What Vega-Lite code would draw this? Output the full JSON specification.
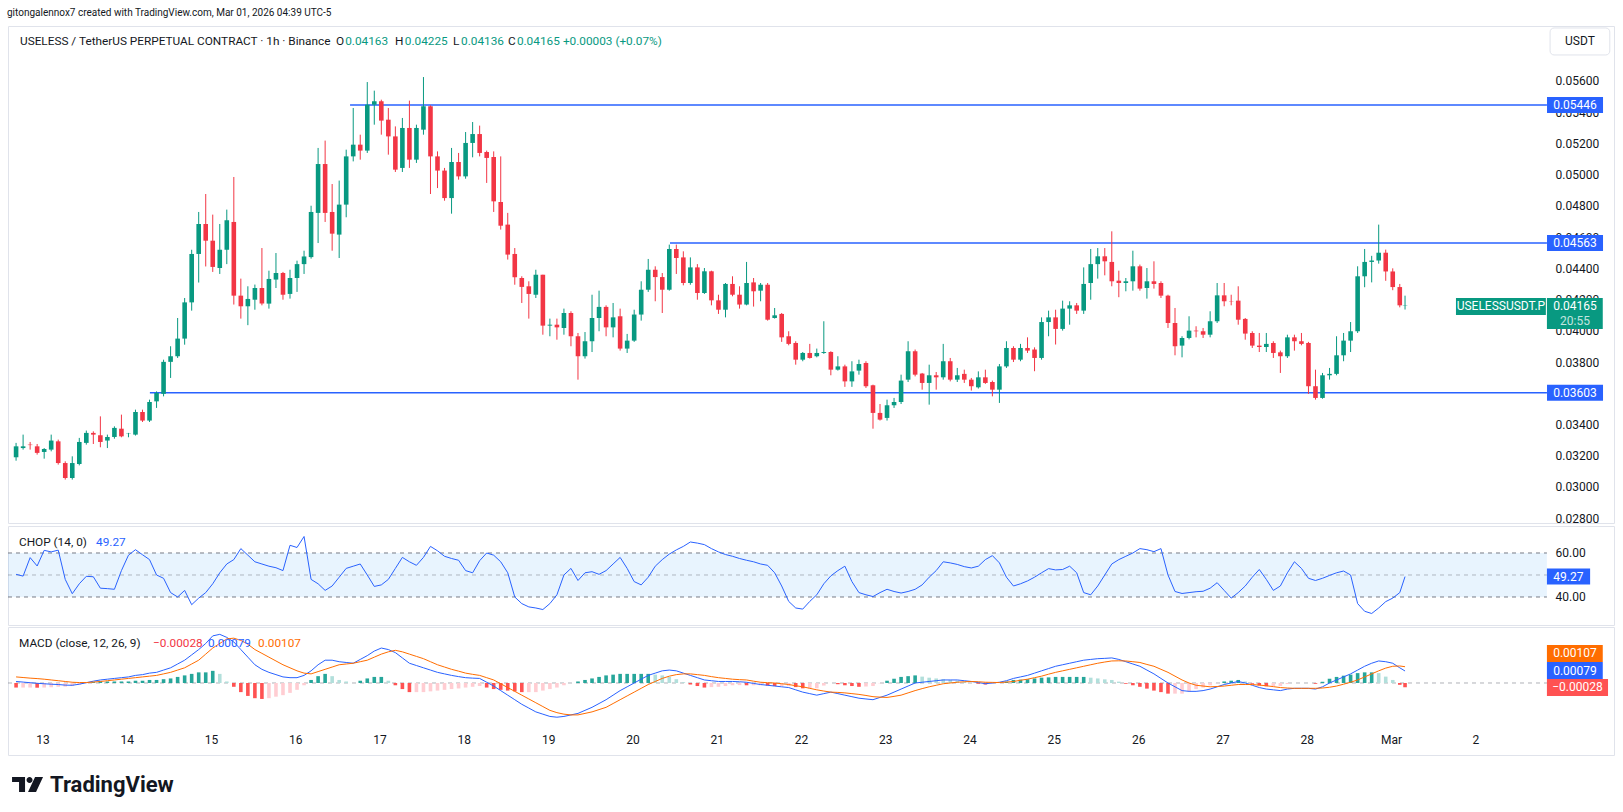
{
"$schema":"https://vega.github.io/schema/vega-lite/v6.json",
"background":"#ffffff",
"padding":{"left":7,"top":7,"right":10,"bottom":0},
"title":{"text":"gitongalennox7 created with TradingView.com, Mar 01, 2026 04:39 UTC-5","anchor":"start","frame":"bounds","fontSize":10,"fontWeight":"normal","color":"#131722","offset":8},
"config":{"font":"Roboto","view":{"stroke":"#e0e3eb","strokeWidth":1}},
"spacing":0,
"datasets":{
"lv":[{"lvl":0.05446,"from":"2026-02-16T15:36"},{"lvl":0.04563,"from":"2026-02-20T10:42"},{"lvl":0.03603,"from":"2026-02-14T06:36"}],
"k":[
{"t":"2026-02-12T16:30","o":0.0319,"h":0.03282,"l":0.03168,"c":0.0326,"ch":50.3,"m":0.0001,"s":0.0004,"d":-0.0003},
{"t":"2026-02-12T18:30","o":0.03249,"h":0.03335,"l":0.03239,"c":0.0326,"ch":49.5,"m":0.00006,"s":0.00036,"d":-0.0003},
{"t":"2026-02-12T20:30","o":0.03271,"h":0.03288,"l":0.03239,"c":0.03268,"ch":57.9,"m":0.00002,"s":0.00032,"d":-0.0003},
{"t":"2026-02-12T22:30","o":0.0326,"h":0.03275,"l":0.03207,"c":0.03218,"ch":54.1,"m":-0.00002,"s":0.00029,"d":-0.00031},
{"t":"2026-02-13T00:30","o":0.03224,"h":0.03249,"l":0.03181,"c":0.03243,"ch":61.2,"m":-0.00005,"s":0.00025,"d":-0.0003},
{"t":"2026-02-13T02:30","o":0.03239,"h":0.03335,"l":0.03228,"c":0.03297,"ch":60.5,"m":-0.00008,"s":0.0002,"d":-0.00028},
{"t":"2026-02-13T04:30","o":0.03292,"h":0.03303,"l":0.03143,"c":0.03153,"ch":61.3,"m":-0.0001,"s":0.00015,"d":-0.00025},
{"t":"2026-02-13T06:30","o":0.03153,"h":0.03164,"l":0.03047,"c":0.03057,"ch":48,"m":-0.00014,"s":0.0001,"d":-0.00024},
{"t":"2026-02-13T08:30","o":0.03057,"h":0.03196,"l":0.03047,"c":0.03153,"ch":41.5,"m":-0.00015,"s":0.00005,"d":-0.0002},
{"t":"2026-02-13T10:30","o":0.03147,"h":0.03314,"l":0.03138,"c":0.03288,"ch":46,"m":-0.00008,"s":0.00003,"d":-0.00011},
{"t":"2026-02-13T12:30","o":0.03282,"h":0.03361,"l":0.03271,"c":0.03346,"ch":49.4,"m":0.00002,"s":0.00003,"d":-0.00001},
{"t":"2026-02-13T14:30","o":0.03346,"h":0.03356,"l":0.03275,"c":0.03335,"ch":49.2,"m":0.00012,"s":0.00006,"d":0.00006},
{"t":"2026-02-13T16:30","o":0.03331,"h":0.03452,"l":0.03254,"c":0.03288,"ch":44,"m":0.0002,"s":0.0001,"d":0.0001},
{"t":"2026-02-13T18:30","o":0.03297,"h":0.03335,"l":0.03249,"c":0.0332,"ch":43.8,"m":0.00025,"s":0.00015,"d":0.0001},
{"t":"2026-02-13T20:30","o":0.0332,"h":0.03388,"l":0.03309,"c":0.03378,"ch":43.5,"m":0.0003,"s":0.0002,"d":0.0001},
{"t":"2026-02-13T22:30","o":0.03373,"h":0.03463,"l":0.03318,"c":0.03324,"ch":52,"m":0.00035,"s":0.00025,"d":0.0001},
{"t":"2026-02-14T00:30","o":0.03339,"h":0.03346,"l":0.03318,"c":0.03341,"ch":59,"m":0.0004,"s":0.0003,"d":0.0001},
{"t":"2026-02-14T02:30","o":0.03335,"h":0.03495,"l":0.03329,"c":0.0348,"ch":61.5,"m":0.0005,"s":0.00035,"d":0.00015},
{"t":"2026-02-14T04:30","o":0.0348,"h":0.03495,"l":0.03416,"c":0.03425,"ch":59.2,"m":0.00055,"s":0.0004,"d":0.00015},
{"t":"2026-02-14T06:30","o":0.03425,"h":0.03559,"l":0.03416,"c":0.03544,"ch":57,"m":0.00065,"s":0.00045,"d":0.0002},
{"t":"2026-02-14T08:30","o":0.03548,"h":0.03612,"l":0.03506,"c":0.03602,"ch":50,"m":0.0007,"s":0.0005,"d":0.0002},
{"t":"2026-02-14T10:30","o":0.03596,"h":0.03815,"l":0.0358,"c":0.03801,"ch":48.5,"m":0.00085,"s":0.0006,"d":0.00025},
{"t":"2026-02-14T12:30","o":0.03801,"h":0.03901,"l":0.03698,"c":0.03837,"ch":42,"m":0.001,"s":0.0007,"d":0.0003},
{"t":"2026-02-14T14:30","o":0.03837,"h":0.04082,"l":0.03826,"c":0.0395,"ch":40,"m":0.00125,"s":0.00085,"d":0.0004},
{"t":"2026-02-14T16:30","o":0.0395,"h":0.0421,"l":0.03911,"c":0.04182,"ch":43,"m":0.0015,"s":0.001,"d":0.0005},
{"t":"2026-02-14T18:30","o":0.04182,"h":0.04519,"l":0.04129,"c":0.04492,"ch":36.5,"m":0.00185,"s":0.00125,"d":0.0006},
{"t":"2026-02-14T20:30","o":0.04492,"h":0.04761,"l":0.04309,"c":0.04684,"ch":39.5,"m":0.0022,"s":0.0015,"d":0.0007},
{"t":"2026-02-14T22:30","o":0.04684,"h":0.04876,"l":0.04412,"c":0.04577,"ch":42,"m":0.0026,"s":0.0019,"d":0.0007},
{"t":"2026-02-15T00:30","o":0.04577,"h":0.04744,"l":0.04377,"c":0.04409,"ch":46,"m":0.0031,"s":0.0023,"d":0.0008},
{"t":"2026-02-15T02:30","o":0.04402,"h":0.04684,"l":0.04364,"c":0.04519,"ch":51,"m":0.0032,"s":0.0026,"d":0.0006},
{"t":"2026-02-15T04:30","o":0.04519,"h":0.04776,"l":0.04427,"c":0.04708,"ch":55,"m":0.003,"s":0.0029,"d":0.0001},
{"t":"2026-02-15T06:30","o":0.04697,"h":0.04985,"l":0.04168,"c":0.04225,"ch":57,"m":0.0027,"s":0.00295,"d":-0.00025},
{"t":"2026-02-15T08:30","o":0.04225,"h":0.04334,"l":0.04078,"c":0.04157,"ch":62,"m":0.0022,"s":0.0028,"d":-0.0006},
{"t":"2026-02-15T10:30","o":0.04157,"h":0.04285,"l":0.04036,"c":0.04204,"ch":59,"m":0.0017,"s":0.00255,"d":-0.00085},
{"t":"2026-02-15T12:30","o":0.04199,"h":0.04296,"l":0.04135,"c":0.04274,"ch":56,"m":0.0012,"s":0.0022,"d":-0.001},
{"t":"2026-02-15T14:30","o":0.04274,"h":0.0453,"l":0.04163,"c":0.04174,"ch":55,"m":0.0009,"s":0.00195,"d":-0.00105},
{"t":"2026-02-15T16:30","o":0.04174,"h":0.04385,"l":0.04142,"c":0.04332,"ch":54,"m":0.0007,"s":0.0017,"d":-0.001},
{"t":"2026-02-15T18:30","o":0.04328,"h":0.04498,"l":0.04274,"c":0.0437,"ch":53.3,"m":0.00055,"s":0.00145,"d":-0.0009},
{"t":"2026-02-15T20:30","o":0.0437,"h":0.04377,"l":0.04199,"c":0.04231,"ch":52,"m":0.0004,"s":0.0012,"d":-0.0008},
{"t":"2026-02-15T22:30","o":0.04236,"h":0.04391,"l":0.04206,"c":0.04338,"ch":63.5,"m":0.00035,"s":0.001,"d":-0.00065},
{"t":"2026-02-16T00:30","o":0.04338,"h":0.04449,"l":0.04249,"c":0.04427,"ch":62.5,"m":0.00035,"s":0.0008,"d":-0.00045},
{"t":"2026-02-16T02:30","o":0.04427,"h":0.04513,"l":0.04364,"c":0.04476,"ch":67.5,"m":0.0005,"s":0.00065,"d":-0.00015},
{"t":"2026-02-16T04:30","o":0.04472,"h":0.04801,"l":0.04462,"c":0.04761,"ch":48,"m":0.0008,"s":0.0006,"d":0.0002},
{"t":"2026-02-16T06:30","o":0.04755,"h":0.05171,"l":0.04562,"c":0.05068,"ch":46,"m":0.0012,"s":0.00075,"d":0.00045},
{"t":"2026-02-16T08:30","o":0.05068,"h":0.05218,"l":0.04697,"c":0.04755,"ch":43,"m":0.0015,"s":0.0009,"d":0.0006},
{"t":"2026-02-16T10:30","o":0.04761,"h":0.0494,"l":0.04513,"c":0.04622,"ch":45,"m":0.0015,"s":0.00105,"d":0.00045},
{"t":"2026-02-16T12:30","o":0.04616,"h":0.04962,"l":0.04466,"c":0.04808,"ch":49,"m":0.0014,"s":0.0012,"d":0.0002},
{"t":"2026-02-16T14:30","o":0.04808,"h":0.0516,"l":0.04727,"c":0.05117,"ch":53,"m":0.00135,"s":0.00125,"d":0.0001},
{"t":"2026-02-16T16:30","o":0.05117,"h":0.05427,"l":0.05085,"c":0.05192,"ch":54,"m":0.0013,"s":0.0013,"d":0},
{"t":"2026-02-16T18:30","o":0.05192,"h":0.05256,"l":0.05096,"c":0.05154,"ch":55,"m":0.00155,"s":0.0014,"d":0.00015},
{"t":"2026-02-16T20:30","o":0.05154,"h":0.05593,"l":0.05139,"c":0.05448,"ch":50,"m":0.0018,"s":0.0015,"d":0.0003},
{"t":"2026-02-16T22:30","o":0.05448,"h":0.05538,"l":0.0532,"c":0.0547,"ch":44.8,"m":0.0021,"s":0.0017,"d":0.0004},
{"t":"2026-02-17T00:30","o":0.0547,"h":0.0548,"l":0.05256,"c":0.05346,"ch":45.5,"m":0.0023,"s":0.0019,"d":0.0004},
{"t":"2026-02-17T02:30","o":0.05352,"h":0.05427,"l":0.05128,"c":0.05245,"ch":48,"m":0.0022,"s":0.00205,"d":0.00015},
{"t":"2026-02-17T04:30","o":0.05245,"h":0.05309,"l":0.05017,"c":0.05032,"ch":53,"m":0.002,"s":0.00215,"d":-0.00015},
{"t":"2026-02-17T06:30","o":0.05043,"h":0.05363,"l":0.05017,"c":0.05299,"ch":58,"m":0.00165,"s":0.00205,"d":-0.0004},
{"t":"2026-02-17T08:30","o":0.05299,"h":0.05474,"l":0.05043,"c":0.05096,"ch":56,"m":0.0013,"s":0.0019,"d":-0.0006},
{"t":"2026-02-17T10:30","o":0.05096,"h":0.0532,"l":0.05075,"c":0.05299,"ch":54.4,"m":0.00115,"s":0.00175,"d":-0.0006},
{"t":"2026-02-17T12:30","o":0.05288,"h":0.05625,"l":0.05256,"c":0.05438,"ch":58,"m":0.001,"s":0.0016,"d":-0.0006},
{"t":"2026-02-17T14:30","o":0.05438,"h":0.05444,"l":0.04876,"c":0.05117,"ch":63,"m":0.00085,"s":0.0014,"d":-0.00055},
{"t":"2026-02-17T16:30","o":0.05117,"h":0.05149,"l":0.04914,"c":0.05026,"ch":61,"m":0.0007,"s":0.0012,"d":-0.0005},
{"t":"2026-02-17T18:30","o":0.05026,"h":0.05043,"l":0.04833,"c":0.0485,"ch":58.5,"m":0.0006,"s":0.00105,"d":-0.00045},
{"t":"2026-02-17T20:30","o":0.0485,"h":0.05171,"l":0.0475,"c":0.05081,"ch":57.5,"m":0.0005,"s":0.0009,"d":-0.0004},
{"t":"2026-02-17T22:30","o":0.05081,"h":0.05139,"l":0.04968,"c":0.04989,"ch":56.7,"m":0.00042,"s":0.00078,"d":-0.00036},
{"t":"2026-02-18T00:30","o":0.04989,"h":0.05273,"l":0.04974,"c":0.05203,"ch":52,"m":0.00035,"s":0.00065,"d":-0.0003},
{"t":"2026-02-18T02:30","o":0.05203,"h":0.05337,"l":0.05111,"c":0.0526,"ch":51,"m":0.00032,"s":0.00057,"d":-0.00025},
{"t":"2026-02-18T04:30","o":0.0526,"h":0.05314,"l":0.05117,"c":0.05139,"ch":56.5,"m":0.0003,"s":0.0005,"d":-0.0002},
{"t":"2026-02-18T06:30","o":0.05145,"h":0.05154,"l":0.04947,"c":0.05107,"ch":60,"m":0.00005,"s":0.00035,"d":-0.0003},
{"t":"2026-02-18T08:30","o":0.05113,"h":0.05149,"l":0.04761,"c":0.04829,"ch":59,"m":-0.0002,"s":0.0002,"d":-0.0004},
{"t":"2026-02-18T10:30","o":0.04825,"h":0.05117,"l":0.04648,"c":0.04673,"ch":56,"m":-0.0005,"s":-0.00005,"d":-0.00045},
{"t":"2026-02-18T12:30","o":0.0468,"h":0.04755,"l":0.04456,"c":0.04488,"ch":51,"m":-0.0008,"s":-0.0003,"d":-0.0005},
{"t":"2026-02-18T14:30","o":0.04492,"h":0.0453,"l":0.04295,"c":0.04343,"ch":40,"m":-0.0011,"s":-0.00055,"d":-0.00055},
{"t":"2026-02-18T16:30","o":0.04338,"h":0.04349,"l":0.04178,"c":0.04281,"ch":37,"m":-0.0014,"s":-0.0008,"d":-0.0006},
{"t":"2026-02-18T18:30","o":0.04285,"h":0.04317,"l":0.04078,"c":0.04236,"ch":35.5,"m":-0.00165,"s":-0.00105,"d":-0.0006},
{"t":"2026-02-18T20:30","o":0.04231,"h":0.04391,"l":0.0421,"c":0.04359,"ch":35,"m":-0.0019,"s":-0.0013,"d":-0.0006},
{"t":"2026-02-18T22:30","o":0.04359,"h":0.04359,"l":0.03975,"c":0.04033,"ch":34.3,"m":-0.00205,"s":-0.00155,"d":-0.0005},
{"t":"2026-02-19T00:30","o":0.04033,"h":0.04078,"l":0.03965,"c":0.04039,"ch":37,"m":-0.0022,"s":-0.0018,"d":-0.0004},
{"t":"2026-02-19T02:30","o":0.04039,"h":0.04078,"l":0.03943,"c":0.04022,"ch":41,"m":-0.00225,"s":-0.00195,"d":-0.0003},
{"t":"2026-02-19T04:30","o":0.04018,"h":0.04142,"l":0.03975,"c":0.04114,"ch":50,"m":-0.0022,"s":-0.00205,"d":-0.00015},
{"t":"2026-02-19T06:30","o":0.04114,"h":0.04125,"l":0.03901,"c":0.03965,"ch":53,"m":-0.0021,"s":-0.0021,"d":0},
{"t":"2026-02-19T08:30","o":0.03965,"h":0.03986,"l":0.03687,"c":0.03837,"ch":47.5,"m":-0.002,"s":-0.0021,"d":0.0001},
{"t":"2026-02-19T10:30","o":0.03837,"h":0.03992,"l":0.03822,"c":0.03933,"ch":51,"m":-0.0018,"s":-0.002,"d":0.0002},
{"t":"2026-02-19T12:30","o":0.03933,"h":0.04231,"l":0.03864,"c":0.04082,"ch":51.5,"m":-0.0016,"s":-0.0019,"d":0.0003},
{"t":"2026-02-19T14:30","o":0.04082,"h":0.04257,"l":0.03997,"c":0.04153,"ch":50.3,"m":-0.00135,"s":-0.00175,"d":0.0004},
{"t":"2026-02-19T16:30","o":0.04153,"h":0.04163,"l":0.03965,"c":0.04022,"ch":52,"m":-0.0011,"s":-0.0016,"d":0.0005},
{"t":"2026-02-19T18:30","o":0.04022,"h":0.04178,"l":0.03958,"c":0.04086,"ch":55,"m":-0.0008,"s":-0.00135,"d":0.00055},
{"t":"2026-02-19T20:30","o":0.04093,"h":0.04142,"l":0.03873,"c":0.03886,"ch":58,"m":-0.0005,"s":-0.0011,"d":0.0006},
{"t":"2026-02-19T22:30","o":0.03886,"h":0.0398,"l":0.03858,"c":0.03937,"ch":53,"m":-0.00025,"s":-0.00085,"d":0.0006},
{"t":"2026-02-20T00:30","o":0.03937,"h":0.04135,"l":0.03929,"c":0.04104,"ch":47,"m":0,"s":-0.0006,"d":0.0006},
{"t":"2026-02-20T02:30","o":0.04104,"h":0.04317,"l":0.04065,"c":0.04263,"ch":45.5,"m":0.00025,"s":-0.00035,"d":0.0006},
{"t":"2026-02-20T04:30","o":0.04263,"h":0.0446,"l":0.04249,"c":0.04391,"ch":49,"m":0.0005,"s":-0.0001,"d":0.0006},
{"t":"2026-02-20T06:30","o":0.04391,"h":0.04413,"l":0.04189,"c":0.04344,"ch":54,"m":0.00065,"s":0.0001,"d":0.00055},
{"t":"2026-02-20T08:30","o":0.04344,"h":0.0437,"l":0.04114,"c":0.04263,"ch":57,"m":0.0008,"s":0.0003,"d":0.0005},
{"t":"2026-02-20T10:30","o":0.04263,"h":0.04552,"l":0.04257,"c":0.04524,"ch":59.5,"m":0.00085,"s":0.00045,"d":0.0004},
{"t":"2026-02-20T12:30","o":0.04524,"h":0.04552,"l":0.04364,"c":0.04466,"ch":61.4,"m":0.0008,"s":0.00055,"d":0.00025},
{"t":"2026-02-20T14:30","o":0.0447,"h":0.04509,"l":0.04291,"c":0.04306,"ch":63,"m":0.00065,"s":0.0006,"d":0.00005},
{"t":"2026-02-20T16:30","o":0.04306,"h":0.0447,"l":0.04295,"c":0.04406,"ch":65,"m":0.0005,"s":0.0006,"d":-0.0001},
{"t":"2026-02-20T18:30","o":0.04406,"h":0.04427,"l":0.04199,"c":0.04242,"ch":64.5,"m":0.00035,"s":0.00055,"d":-0.0002},
{"t":"2026-02-20T20:30","o":0.04242,"h":0.04402,"l":0.04236,"c":0.04381,"ch":63.8,"m":0.0002,"s":0.0005,"d":-0.0003},
{"t":"2026-02-20T22:30","o":0.04381,"h":0.04385,"l":0.04163,"c":0.04195,"ch":62,"m":0.00015,"s":0.00042,"d":-0.00027},
{"t":"2026-02-21T00:30","o":0.04195,"h":0.04231,"l":0.04108,"c":0.04135,"ch":60.5,"m":0.0001,"s":0.00035,"d":-0.00025},
{"t":"2026-02-21T02:30","o":0.04135,"h":0.04306,"l":0.04086,"c":0.043,"ch":59.3,"m":0.0001,"s":0.0003,"d":-0.0002},
{"t":"2026-02-21T04:30","o":0.043,"h":0.04349,"l":0.04221,"c":0.04231,"ch":58.5,"m":0.0001,"s":0.00025,"d":-0.00015},
{"t":"2026-02-21T06:30","o":0.04231,"h":0.04285,"l":0.04142,"c":0.04168,"ch":57.5,"m":0.00008,"s":0.00022,"d":-0.00014},
{"t":"2026-02-21T08:30","o":0.04168,"h":0.04441,"l":0.04163,"c":0.04306,"ch":56.7,"m":0.00005,"s":0.0002,"d":-0.00015},
{"t":"2026-02-21T10:30","o":0.0431,"h":0.04338,"l":0.04155,"c":0.04253,"ch":56,"m":-0.00003,"s":0.00012,"d":-0.00015},
{"t":"2026-02-21T12:30","o":0.04257,"h":0.04306,"l":0.04189,"c":0.04295,"ch":55,"m":-0.0001,"s":0.00005,"d":-0.00015},
{"t":"2026-02-21T14:30","o":0.04295,"h":0.04306,"l":0.04065,"c":0.04071,"ch":54.4,"m":-0.00015,"s":0.00002,"d":-0.00017},
{"t":"2026-02-21T16:30","o":0.04082,"h":0.04146,"l":0.04078,"c":0.04099,"ch":51,"m":-0.0002,"s":0,"d":-0.0002},
{"t":"2026-02-21T18:30","o":0.04108,"h":0.04114,"l":0.03929,"c":0.03958,"ch":45,"m":-0.00025,"s":-0.00005,"d":-0.0002},
{"t":"2026-02-21T20:30","o":0.03965,"h":0.03997,"l":0.03907,"c":0.03916,"ch":38,"m":-0.0003,"s":-0.0001,"d":-0.0002},
{"t":"2026-02-21T22:30","o":0.03922,"h":0.03933,"l":0.03783,"c":0.03815,"ch":35,"m":-0.00045,"s":-0.00018,"d":-0.00027},
{"t":"2026-02-22T00:30","o":0.03815,"h":0.03864,"l":0.03805,"c":0.03858,"ch":34.5,"m":-0.0006,"s":-0.00025,"d":-0.00035},
{"t":"2026-02-22T02:30","o":0.03858,"h":0.03916,"l":0.03822,"c":0.03826,"ch":38,"m":-0.0007,"s":-0.00035,"d":-0.00035},
{"t":"2026-02-22T04:30","o":0.03837,"h":0.03886,"l":0.0383,"c":0.03858,"ch":41,"m":-0.0008,"s":-0.00045,"d":-0.00035},
{"t":"2026-02-22T06:30","o":0.03858,"h":0.04061,"l":0.03852,"c":0.03864,"ch":46,"m":-0.0007,"s":-0.00053,"d":-0.00017},
{"t":"2026-02-22T08:30","o":0.03864,"h":0.03869,"l":0.03715,"c":0.03751,"ch":49.6,"m":-0.0006,"s":-0.0006,"d":0},
{"t":"2026-02-22T10:30","o":0.03751,"h":0.03837,"l":0.03745,"c":0.03772,"ch":52,"m":-0.0007,"s":-0.00062,"d":-0.00008},
{"t":"2026-02-22T12:30","o":0.03772,"h":0.03783,"l":0.03641,"c":0.03676,"ch":54,"m":-0.0008,"s":-0.00065,"d":-0.00015},
{"t":"2026-02-22T14:30","o":0.03676,"h":0.03805,"l":0.03641,"c":0.0374,"ch":47,"m":-0.0009,"s":-0.0007,"d":-0.0002},
{"t":"2026-02-22T16:30","o":0.03745,"h":0.03815,"l":0.03719,"c":0.03787,"ch":42,"m":-0.001,"s":-0.00075,"d":-0.00025},
{"t":"2026-02-22T18:30","o":0.03794,"h":0.03805,"l":0.03634,"c":0.03645,"ch":41,"m":-0.00105,"s":-0.00082,"d":-0.00023},
{"t":"2026-02-22T20:30","o":0.03651,"h":0.03655,"l":0.03373,"c":0.03474,"ch":40.2,"m":-0.0011,"s":-0.0009,"d":-0.0002},
{"t":"2026-02-22T22:30","o":0.03474,"h":0.03531,"l":0.03425,"c":0.03431,"ch":42,"m":-0.00095,"s":-0.00093,"d":-0.00002},
{"t":"2026-02-23T00:30","o":0.03442,"h":0.03559,"l":0.03425,"c":0.03523,"ch":43.5,"m":-0.0008,"s":-0.00095,"d":0.00015},
{"t":"2026-02-23T02:30","o":0.03523,"h":0.0357,"l":0.03506,"c":0.03544,"ch":42.5,"m":-0.0006,"s":-0.00088,"d":0.00028},
{"t":"2026-02-23T04:30","o":0.03544,"h":0.03719,"l":0.03531,"c":0.03681,"ch":41.8,"m":-0.0004,"s":-0.0008,"d":0.0004},
{"t":"2026-02-23T06:30","o":0.03687,"h":0.03933,"l":0.03672,"c":0.03869,"ch":42.5,"m":-0.0002,"s":-0.00065,"d":0.00045},
{"t":"2026-02-23T08:30","o":0.03869,"h":0.0388,"l":0.03708,"c":0.03719,"ch":43.5,"m":0,"s":-0.0005,"d":0.0005},
{"t":"2026-02-23T10:30","o":0.03726,"h":0.0373,"l":0.03623,"c":0.03666,"ch":45.5,"m":0.00005,"s":-0.00037,"d":0.00042},
{"t":"2026-02-23T12:30","o":0.03666,"h":0.03783,"l":0.03527,"c":0.03715,"ch":49,"m":0.0001,"s":-0.00025,"d":0.00035},
{"t":"2026-02-23T14:30","o":0.03715,"h":0.03736,"l":0.03623,"c":0.03702,"ch":52,"m":0.00015,"s":-0.00015,"d":0.0003},
{"t":"2026-02-23T16:30","o":0.03702,"h":0.03916,"l":0.03687,"c":0.03805,"ch":56,"m":0.0002,"s":-0.00005,"d":0.00025},
{"t":"2026-02-23T18:30","o":0.03805,"h":0.03826,"l":0.03676,"c":0.03687,"ch":55.5,"m":0.0002,"s":0,"d":0.0002},
{"t":"2026-02-23T20:30","o":0.03687,"h":0.03762,"l":0.03672,"c":0.03715,"ch":54.8,"m":0.0002,"s":0.00005,"d":0.00015},
{"t":"2026-02-23T22:30","o":0.03724,"h":0.03751,"l":0.03666,"c":0.03687,"ch":53.8,"m":0.00015,"s":0.00008,"d":0.00007},
{"t":"2026-02-24T00:30","o":0.03687,"h":0.03698,"l":0.03617,"c":0.03645,"ch":53.2,"m":0.0001,"s":0.0001,"d":0},
{"t":"2026-02-24T02:30","o":0.03638,"h":0.0374,"l":0.0363,"c":0.03702,"ch":54,"m":0.00003,"s":0.00008,"d":-0.00005},
{"t":"2026-02-24T04:30","o":0.03702,"h":0.03751,"l":0.0366,"c":0.03666,"ch":57,"m":-0.00005,"s":0.00005,"d":-0.0001},
{"t":"2026-02-24T06:30","o":0.03672,"h":0.03681,"l":0.0358,"c":0.03623,"ch":58.8,"m":0,"s":0.00004,"d":-0.00004},
{"t":"2026-02-24T08:30","o":0.03623,"h":0.03787,"l":0.03538,"c":0.03772,"ch":55.5,"m":0.00005,"s":0.00003,"d":0.00002},
{"t":"2026-02-24T10:30","o":0.03772,"h":0.03933,"l":0.03762,"c":0.0389,"ch":49,"m":0.00015,"s":0.00006,"d":0.00009},
{"t":"2026-02-24T12:30","o":0.0389,"h":0.03901,"l":0.038,"c":0.03815,"ch":45,"m":0.0003,"s":0.0001,"d":0.0002},
{"t":"2026-02-24T14:30","o":0.03815,"h":0.03916,"l":0.03805,"c":0.0389,"ch":46,"m":0.0004,"s":0.00018,"d":0.00022},
{"t":"2026-02-24T16:30","o":0.0389,"h":0.03958,"l":0.03858,"c":0.03873,"ch":47.3,"m":0.0005,"s":0.00025,"d":0.00025},
{"t":"2026-02-24T18:30","o":0.0388,"h":0.03894,"l":0.03741,"c":0.03826,"ch":49,"m":0.00065,"s":0.00035,"d":0.0003},
{"t":"2026-02-24T20:30","o":0.03826,"h":0.04086,"l":0.03815,"c":0.04056,"ch":51,"m":0.0008,"s":0.00045,"d":0.00035},
{"t":"2026-02-24T22:30","o":0.04056,"h":0.04129,"l":0.03965,"c":0.04086,"ch":52.9,"m":0.00095,"s":0.00058,"d":0.00037},
{"t":"2026-02-25T00:30","o":0.04086,"h":0.04135,"l":0.03912,"c":0.04012,"ch":52.3,"m":0.0011,"s":0.0007,"d":0.0004},
{"t":"2026-02-25T02:30","o":0.04012,"h":0.04193,"l":0.04001,"c":0.04142,"ch":52.5,"m":0.0012,"s":0.0008,"d":0.0004},
{"t":"2026-02-25T04:30","o":0.04142,"h":0.04189,"l":0.04039,"c":0.04163,"ch":54,"m":0.0013,"s":0.0009,"d":0.0004},
{"t":"2026-02-25T06:30","o":0.04163,"h":0.04178,"l":0.04108,"c":0.04129,"ch":51,"m":0.0014,"s":0.001,"d":0.0004},
{"t":"2026-02-25T08:30","o":0.04129,"h":0.04406,"l":0.04108,"c":0.043,"ch":42,"m":0.0015,"s":0.0011,"d":0.0004},
{"t":"2026-02-25T10:30","o":0.04306,"h":0.04524,"l":0.04199,"c":0.04427,"ch":41,"m":0.00155,"s":0.0012,"d":0.00035},
{"t":"2026-02-25T12:30","o":0.04427,"h":0.0453,"l":0.04334,"c":0.04477,"ch":45,"m":0.0016,"s":0.0013,"d":0.0003},
{"t":"2026-02-25T14:30","o":0.04477,"h":0.0453,"l":0.04355,"c":0.04445,"ch":50,"m":0.00162,"s":0.00138,"d":0.00024},
{"t":"2026-02-25T16:30","o":0.04441,"h":0.04637,"l":0.04285,"c":0.04317,"ch":55,"m":0.00165,"s":0.00145,"d":0.0002},
{"t":"2026-02-25T18:30","o":0.04321,"h":0.04385,"l":0.04215,"c":0.04306,"ch":57,"m":0.00155,"s":0.00146,"d":0.00009},
{"t":"2026-02-25T20:30","o":0.04306,"h":0.04338,"l":0.04253,"c":0.04317,"ch":58.5,"m":0.0014,"s":0.00145,"d":-0.00005},
{"t":"2026-02-25T22:30","o":0.04317,"h":0.04513,"l":0.04257,"c":0.04413,"ch":60,"m":0.00125,"s":0.0014,"d":-0.00015},
{"t":"2026-02-26T00:30","o":0.04413,"h":0.04424,"l":0.04257,"c":0.0427,"ch":62,"m":0.0011,"s":0.00135,"d":-0.00025},
{"t":"2026-02-26T02:30","o":0.04274,"h":0.04402,"l":0.04206,"c":0.04317,"ch":61.5,"m":0.00085,"s":0.00122,"d":-0.00037},
{"t":"2026-02-26T04:30","o":0.04317,"h":0.04445,"l":0.0427,"c":0.043,"ch":60.6,"m":0.0006,"s":0.0011,"d":-0.0005},
{"t":"2026-02-26T06:30","o":0.04306,"h":0.04317,"l":0.0421,"c":0.04225,"ch":62,"m":0.0003,"s":0.0009,"d":-0.0006},
{"t":"2026-02-26T08:30","o":0.04225,"h":0.04231,"l":0.04018,"c":0.0405,"ch":50,"m":0,"s":0.0007,"d":-0.0007},
{"t":"2026-02-26T10:30","o":0.0405,"h":0.04146,"l":0.03843,"c":0.03901,"ch":42.5,"m":-0.00025,"s":0.00045,"d":-0.0007},
{"t":"2026-02-26T12:30","o":0.03905,"h":0.03965,"l":0.0383,"c":0.03954,"ch":41.6,"m":-0.0005,"s":0.0002,"d":-0.0007},
{"t":"2026-02-26T14:30","o":0.03954,"h":0.04093,"l":0.03945,"c":0.04001,"ch":42,"m":-0.00055,"s":0,"d":-0.00055},
{"t":"2026-02-26T16:30","o":0.04001,"h":0.04029,"l":0.03958,"c":0.03997,"ch":42.4,"m":-0.00055,"s":-0.00015,"d":-0.0004},
{"t":"2026-02-26T18:30","o":0.03997,"h":0.04018,"l":0.03954,"c":0.03975,"ch":42.6,"m":-0.0005,"s":-0.0002,"d":-0.0003},
{"t":"2026-02-26T20:30","o":0.03975,"h":0.04125,"l":0.03958,"c":0.04061,"ch":44,"m":-0.0004,"s":-0.00025,"d":-0.00015},
{"t":"2026-02-26T22:30","o":0.04061,"h":0.04306,"l":0.0405,"c":0.04227,"ch":46.5,"m":-0.00025,"s":-0.00023,"d":-0.00002},
{"t":"2026-02-27T00:30","o":0.04227,"h":0.04306,"l":0.04157,"c":0.04189,"ch":43,"m":-0.0001,"s":-0.0002,"d":0.0001},
{"t":"2026-02-27T02:30","o":0.04189,"h":0.04231,"l":0.04163,"c":0.04187,"ch":39.5,"m":0,"s":-0.00015,"d":0.00015},
{"t":"2026-02-27T04:30","o":0.04193,"h":0.04285,"l":0.04039,"c":0.04071,"ch":42,"m":0.0001,"s":-0.0001,"d":0.0002},
{"t":"2026-02-27T06:30","o":0.04076,"h":0.04082,"l":0.03943,"c":0.03982,"ch":45,"m":0,"s":-0.0001,"d":0.0001},
{"t":"2026-02-27T08:30","o":0.03986,"h":0.03997,"l":0.0389,"c":0.03905,"ch":49,"m":-0.00015,"s":-0.0001,"d":-0.00005},
{"t":"2026-02-27T10:30","o":0.03905,"h":0.03986,"l":0.03864,"c":0.03896,"ch":52.5,"m":-0.0003,"s":-0.00014,"d":-0.00016},
{"t":"2026-02-27T12:30","o":0.03896,"h":0.03986,"l":0.03864,"c":0.03916,"ch":48,"m":-0.0004,"s":-0.00018,"d":-0.00022},
{"t":"2026-02-27T14:30","o":0.03922,"h":0.03933,"l":0.03826,"c":0.03858,"ch":43,"m":-0.00045,"s":-0.00024,"d":-0.00021},
{"t":"2026-02-27T16:30","o":0.03862,"h":0.03873,"l":0.0373,"c":0.03837,"ch":45,"m":-0.0005,"s":-0.0003,"d":-0.0002},
{"t":"2026-02-27T18:30","o":0.03837,"h":0.03975,"l":0.03826,"c":0.03958,"ch":51,"m":-0.0004,"s":-0.00033,"d":-0.00007},
{"t":"2026-02-27T20:30","o":0.03958,"h":0.03975,"l":0.03873,"c":0.03933,"ch":56,"m":-0.00035,"s":-0.00035,"d":0},
{"t":"2026-02-27T22:30","o":0.03933,"h":0.03986,"l":0.03907,"c":0.03916,"ch":53,"m":-0.00035,"s":-0.00035,"d":0},
{"t":"2026-02-28T00:30","o":0.03922,"h":0.03929,"l":0.03596,"c":0.03645,"ch":48.5,"m":-0.00035,"s":-0.00035,"d":0},
{"t":"2026-02-28T02:30","o":0.03645,"h":0.03751,"l":0.03559,"c":0.0357,"ch":47.5,"m":-0.0004,"s":-0.00035,"d":-0.00005},
{"t":"2026-02-28T04:30","o":0.0357,"h":0.0373,"l":0.03565,"c":0.03715,"ch":48.5,"m":-0.00025,"s":-0.00033,"d":0.00008},
{"t":"2026-02-28T06:30","o":0.03715,"h":0.03762,"l":0.03687,"c":0.03724,"ch":49.8,"m":0,"s":-0.00028,"d":0.00028},
{"t":"2026-02-28T08:30","o":0.03724,"h":0.03965,"l":0.03715,"c":0.03843,"ch":51,"m":0.0002,"s":-0.0002,"d":0.0004},
{"t":"2026-02-28T10:30","o":0.03843,"h":0.03986,"l":0.03805,"c":0.03937,"ch":51.8,"m":0.0004,"s":-0.00008,"d":0.00048},
{"t":"2026-02-28T12:30","o":0.03937,"h":0.04056,"l":0.03864,"c":0.03997,"ch":50,"m":0.0006,"s":0.00005,"d":0.00055},
{"t":"2026-02-28T14:30","o":0.03997,"h":0.04413,"l":0.03986,"c":0.04349,"ch":37,"m":0.00085,"s":0.0002,"d":0.00065},
{"t":"2026-02-28T16:30","o":0.04349,"h":0.04524,"l":0.04279,"c":0.04441,"ch":33.5,"m":0.0011,"s":0.0004,"d":0.0007},
{"t":"2026-02-28T18:30","o":0.04441,"h":0.0448,"l":0.0431,"c":0.0445,"ch":32.5,"m":0.0013,"s":0.0006,"d":0.0007},
{"t":"2026-02-28T20:30","o":0.0445,"h":0.0468,"l":0.0443,"c":0.045,"ch":35,"m":0.00145,"s":0.0008,"d":0.00065},
{"t":"2026-02-28T22:30","o":0.045,"h":0.0452,"l":0.0432,"c":0.0438,"ch":37.9,"m":0.0014,"s":0.00098,"d":0.00042},
{"t":"2026-03-01T00:30","o":0.0438,"h":0.044,"l":0.0426,"c":0.0428,"ch":39.5,"m":0.0013,"s":0.0011,"d":0.0002},
{"t":"2026-03-01T02:30","o":0.0428,"h":0.043,"l":0.0415,"c":0.04163,"ch":42,"m":0.001,"s":0.00112,"d":-0.00012},
{"t":"2026-03-01T04:00","o":0.04163,"h":0.04225,"l":0.04136,"c":0.04165,"ch":49.27,"m":0.00079,"s":0.00107,"d":-0.00028}
]},
"vconcat":[
{
"width":1606,"height":497,
"resolve":{"axis":{"x":"independent","y":"independent"}},
"layer":[
{"data":{"name":"lv"},"mark":{"type":"rule","color":"#2962ff","strokeWidth":1.5},
 "encoding":{"x":{"field":"from","type":"temporal","scale":{"domain":[{"year":2026,"month":2,"date":12,"hours":14,"minutes":12},{"year":2026,"month":3,"date":3,"hours":15,"minutes":30}],"padding":0},"axis":null},
 "x2":{"datum":{"year":2026,"month":3,"date":2,"hours":20,"minutes":24}},
 "y":{"field":"lvl","type":"quantitative","scale":{"domain":[0.02769,0.05952],"nice":false,"zero":false,"padding":0},
  "axis":{"orient":"right","offset":-59,"values":[0.028,0.03,0.032,0.034,0.038,0.04,0.042,0.044,0.046,0.048,0.05,0.052,0.054,0.056],"format":".5f","grid":false,"domain":false,"ticks":false,"tickSize":0,"labelPadding":0,"labelAlign":"left","labelFontSize":12,"labelColor":"#131722","labelFlush":false,"labelOverlap":false,"title":null}}}},
{"data":{"name":"k"},"mark":{"type":"rule","strokeWidth":1},
 "encoding":{"x":{"field":"t","type":"temporal","axis":null},"y":{"field":"l","type":"quantitative","axis":null},"y2":{"field":"h"},
 "color":{"condition":{"test":"datum.c >= datum.o","value":"#089981"},"value":"#f23645"}}},
{"data":{"name":"k"},"mark":{"type":"bar","width":4.6},
 "encoding":{"x":{"field":"t","type":"temporal","axis":null},"y":{"field":"o","type":"quantitative","axis":null},"y2":{"field":"c"},
 "color":{"condition":{"test":"datum.c >= datum.o","value":"#089981"},"value":"#f23645"}}},
{"data":{"values":[{}]},"mark":{"type":"text","align":"left","baseline":"middle","fontSize":11.8,"color":"#131722","text":"USELESS / TetherUS PERPETUAL CONTRACT · 1h · Binance"},
 "encoding":{"x":{"datum":{"year":2026,"month":2,"date":12,"hours":17,"minutes":37},"type":"temporal","axis":null},"y":{"datum":0.05856,"type":"quantitative","axis":null}}},
{"data":{"values":[{}]},"mark":{"type":"text","align":"left","baseline":"middle","fontSize":11.8,"color":"#131722","text":"O"},
 "encoding":{"x":{"datum":{"year":2026,"month":2,"date":16,"hours":11,"minutes":36},"type":"temporal","axis":null},"y":{"datum":0.05856,"type":"quantitative","axis":null}}},
{"data":{"values":[{}]},"mark":{"type":"text","align":"left","baseline":"middle","fontSize":11.8,"color":"#089981","text":"0.04163"},
 "encoding":{"x":{"datum":{"year":2026,"month":2,"date":16,"hours":14,"minutes":12},"type":"temporal","axis":null},"y":{"datum":0.05856,"type":"quantitative","axis":null}}},
{"data":{"values":[{}]},"mark":{"type":"text","align":"left","baseline":"middle","fontSize":11.8,"color":"#131722","text":"H"},
 "encoding":{"x":{"datum":{"year":2026,"month":2,"date":17,"hours":4,"minutes":24},"type":"temporal","axis":null},"y":{"datum":0.05856,"type":"quantitative","axis":null}}},
{"data":{"values":[{}]},"mark":{"type":"text","align":"left","baseline":"middle","fontSize":11.8,"color":"#089981","text":"0.04225"},
 "encoding":{"x":{"datum":{"year":2026,"month":2,"date":17,"hours":7,"minutes":12},"type":"temporal","axis":null},"y":{"datum":0.05856,"type":"quantitative","axis":null}}},
{"data":{"values":[{}]},"mark":{"type":"text","align":"left","baseline":"middle","fontSize":11.8,"color":"#131722","text":"L"},
 "encoding":{"x":{"datum":{"year":2026,"month":2,"date":17,"hours":20,"minutes":54},"type":"temporal","axis":null},"y":{"datum":0.05856,"type":"quantitative","axis":null}}},
{"data":{"values":[{}]},"mark":{"type":"text","align":"left","baseline":"middle","fontSize":11.8,"color":"#089981","text":"0.04136"},
 "encoding":{"x":{"datum":{"year":2026,"month":2,"date":17,"hours":23,"minutes":12},"type":"temporal","axis":null},"y":{"datum":0.05856,"type":"quantitative","axis":null}}},
{"data":{"values":[{}]},"mark":{"type":"text","align":"left","baseline":"middle","fontSize":11.8,"color":"#131722","text":"C"},
 "encoding":{"x":{"datum":{"year":2026,"month":2,"date":18,"hours":12,"minutes":36},"type":"temporal","axis":null},"y":{"datum":0.05856,"type":"quantitative","axis":null}}},
{"data":{"values":[{}]},"mark":{"type":"text","align":"left","baseline":"middle","fontSize":11.8,"color":"#089981","text":"0.04165"},
 "encoding":{"x":{"datum":{"year":2026,"month":2,"date":18,"hours":15,"minutes":6},"type":"temporal","axis":null},"y":{"datum":0.05856,"type":"quantitative","axis":null}}},
{"data":{"values":[{}]},"mark":{"type":"text","align":"left","baseline":"middle","fontSize":11.8,"color":"#089981","text":"+0.00003 (+0.07%)"},
 "encoding":{"x":{"datum":{"year":2026,"month":2,"date":19,"hours":4,"minutes":12},"type":"temporal","axis":null},"y":{"datum":0.05856,"type":"quantitative","axis":null}}},
{"data":{"name":"lv"},"mark":{"type":"point","shape":"M-1,-0.2857H1V0.2857H-1Z","filled":true,"size":3136,"color":"#2962ff","opacity":1,"strokeWidth":0},
 "encoding":{"x":{"datum":{"year":2026,"month":3,"date":3,"hours":4,"minutes":24},"type":"temporal","axis":null},"y":{"field":"lvl","type":"quantitative","axis":null}}},
{"data":{"name":"lv"},"mark":{"type":"text","color":"#ffffff","fontSize":12,"align":"center","baseline":"middle"},
 "encoding":{"x":{"datum":{"year":2026,"month":3,"date":3,"hours":4,"minutes":24},"type":"temporal","axis":null},"y":{"field":"lvl","type":"quantitative","axis":null},"text":{"field":"lvl","type":"quantitative","format":".5f"}}},
{"data":{"values":[{}]},"mark":{"type":"rect","color":"#089981"},
 "encoding":{"x":{"datum":{"year":2026,"month":3,"date":2,"hours":20,"minutes":24},"type":"temporal","axis":null},"x2":{"datum":{"year":2026,"month":3,"date":3,"hours":12,"minutes":18}},"y":{"datum":0.042103,"type":"quantitative","axis":null},"y2":{"datum":0.040118}}},
{"data":{"values":[{}]},"mark":{"type":"text","color":"#ffffff","fontSize":12,"align":"center","baseline":"middle","text":"0.04165"},
 "encoding":{"x":{"datum":{"year":2026,"month":3,"date":3,"hours":4,"minutes":24},"type":"temporal","axis":null},"y":{"datum":0.04159,"type":"quantitative","axis":null}}},
{"data":{"values":[{}]},"mark":{"type":"text","color":"#ffffff","opacity":0.75,"fontSize":12,"align":"center","baseline":"middle","text":"20:55"},
 "encoding":{"x":{"datum":{"year":2026,"month":3,"date":3,"hours":4,"minutes":24},"type":"temporal","axis":null},"y":{"datum":0.04063,"type":"quantitative","axis":null}}},
{"data":{"values":[{}]},"mark":{"type":"rect","color":"#089981"},
 "encoding":{"x":{"datum":{"year":2026,"month":3,"date":1,"hours":18,"minutes":30},"type":"temporal","axis":null},"x2":{"datum":{"year":2026,"month":3,"date":2,"hours":20,"minutes":6}},"y":{"datum":0.042103,"type":"quantitative","axis":null},"y2":{"datum":0.041014}}},
{"data":{"values":[{}]},"mark":{"type":"text","color":"#ffffff","fontSize":12,"align":"center","baseline":"middle","text":"USELESSUSDT.P"},
 "encoding":{"x":{"datum":{"year":2026,"month":3,"date":2,"hours":7,"minutes":18},"type":"temporal","axis":null},"y":{"datum":0.041559,"type":"quantitative","axis":null}}},
{"data":{"values":[{}]},"mark":{"type":"rect","fill":"#ffffff","stroke":"#e0e3eb","strokeWidth":1,"cornerRadius":4},
 "encoding":{"x":{"datum":{"year":2026,"month":3,"date":2,"hours":21,"minutes":18},"type":"temporal","axis":null},"x2":{"datum":{"year":2026,"month":3,"date":3,"hours":14,"minutes":18}},"y":{"datum":0.059394,"type":"quantitative","axis":null},"y2":{"datum":0.057665}}},
{"data":{"values":[{}]},"mark":{"type":"text","color":"#131722","fontSize":12,"align":"center","baseline":"middle","text":"USDT"},
 "encoding":{"x":{"datum":{"year":2026,"month":3,"date":3,"hours":5,"minutes":48},"type":"temporal","axis":null},"y":{"datum":0.05853,"type":"quantitative","axis":null}}}
]
},
{
"width":1606,"height":99,
"resolve":{"axis":{"x":"independent","y":"independent"}},
"layer":[
{"data":{"values":[{}]},"mark":{"type":"rect","color":"#2196f3","opacity":0.1},
 "encoding":{"x":{"datum":{"year":2026,"month":2,"date":12,"hours":14,"minutes":12},"type":"temporal","scale":{"domain":[{"year":2026,"month":2,"date":12,"hours":14,"minutes":12},{"year":2026,"month":3,"date":3,"hours":15,"minutes":30}],"padding":0},"axis":null},"x2":{"datum":{"year":2026,"month":3,"date":2,"hours":20,"minutes":24}},
 "y":{"datum":40,"type":"quantitative","scale":{"domain":[27.27,72.27],"nice":false,"zero":false,"padding":0},"axis":null},"y2":{"datum":60}}},
{"data":{"values":[{}]},"mark":{"type":"rule","color":"#787b86","strokeDash":[4,4],"strokeWidth":1},
 "encoding":{"x":{"datum":{"year":2026,"month":2,"date":12,"hours":14,"minutes":12},"type":"temporal","axis":null},"x2":{"datum":{"year":2026,"month":3,"date":2,"hours":20,"minutes":24}},"y":{"datum":60,"type":"quantitative","axis":null}}},
{"data":{"values":[{}]},"mark":{"type":"rule","color":"#787b86","strokeDash":[4,4],"strokeWidth":1},
 "encoding":{"x":{"datum":{"year":2026,"month":2,"date":12,"hours":14,"minutes":12},"type":"temporal","axis":null},"x2":{"datum":{"year":2026,"month":3,"date":2,"hours":20,"minutes":24}},"y":{"datum":40,"type":"quantitative","axis":null}}},
{"data":{"values":[{}]},"mark":{"type":"rule","color":"#787b86","opacity":0.5,"strokeDash":[4,4],"strokeWidth":1},
 "encoding":{"x":{"datum":{"year":2026,"month":2,"date":12,"hours":14,"minutes":12},"type":"temporal","axis":null},"x2":{"datum":{"year":2026,"month":3,"date":2,"hours":20,"minutes":24}},"y":{"datum":50,"type":"quantitative","axis":null}}},
{"data":{"name":"k"},"mark":{"type":"line","color":"#2962ff","strokeWidth":1},
 "encoding":{"x":{"field":"t","type":"temporal","axis":null},"y":{"field":"ch","type":"quantitative",
 "axis":{"orient":"right","offset":-59,"values":[40,60],"format":".2f","grid":false,"domain":false,"ticks":false,"tickSize":0,"labelPadding":0,"labelAlign":"left","labelFontSize":12,"labelColor":"#131722","labelFlush":false,"labelOverlap":false,"title":null}}}},
{"data":{"values":[{}]},"mark":{"type":"text","align":"left","baseline":"middle","fontSize":11.8,"color":"#131722","text":"CHOP (14, 0)"},
 "encoding":{"x":{"datum":{"year":2026,"month":2,"date":12,"hours":17,"minutes":20},"type":"temporal","axis":null},"y":{"datum":65,"type":"quantitative","axis":null}}},
{"data":{"values":[{}]},"mark":{"type":"text","align":"left","baseline":"middle","fontSize":11.8,"color":"#2962ff","text":"49.27"},
 "encoding":{"x":{"datum":{"year":2026,"month":2,"date":13,"hours":15,"minutes":16},"type":"temporal","axis":null},"y":{"datum":65,"type":"quantitative","axis":null}}},
{"data":{"values":[{}]},"mark":{"type":"rect","color":"#2962ff"},
 "encoding":{"x":{"datum":{"year":2026,"month":3,"date":2,"hours":20,"minutes":24},"type":"temporal","axis":null},"x2":{"datum":{"year":2026,"month":3,"date":3,"hours":8,"minutes":42}},"y":{"datum":45.63,"type":"quantitative","axis":null},"y2":{"datum":52.91}}},
{"data":{"values":[{}]},"mark":{"type":"text","color":"#ffffff","fontSize":12,"align":"center","baseline":"middle","text":"49.27"},
 "encoding":{"x":{"datum":{"year":2026,"month":3,"date":3,"hours":2,"minutes":30},"type":"temporal","axis":null},"y":{"datum":49.27,"type":"quantitative","axis":null}}}
]
},
{
"width":1606,"height":128,
"resolve":{"axis":{"x":"independent","y":"independent"}},
"layer":[
{"data":{"values":[{}]},"mark":{"type":"rule","color":"#787b86","opacity":0.6,"strokeDash":[4,4],"strokeWidth":1},
 "encoding":{"x":{"datum":{"year":2026,"month":2,"date":12,"hours":14,"minutes":12},"type":"temporal","scale":{"domain":[{"year":2026,"month":2,"date":12,"hours":14,"minutes":12},{"year":2026,"month":3,"date":3,"hours":15,"minutes":30}],"padding":0},"axis":null},"x2":{"datum":{"year":2026,"month":3,"date":2,"hours":20,"minutes":24}},
 "y":{"datum":0,"type":"quantitative","scale":{"domain":[-0.004737,0.003684],"nice":false,"zero":false,"padding":0},"axis":null}}},
{"data":{"name":"k"},
 "transform":[{"window":[{"op":"lag","field":"d","as":"pd"}],"sort":[{"field":"t"}]}],
 "mark":{"type":"bar","width":3.6},
 "encoding":{"x":{"field":"t","type":"temporal",
  "axis":{"orient":"bottom","offset":-29,"tickCount":{"interval":"day","step":1},"labelExpr":"date(datum.value) == 1 ? timeFormat(datum.value, '%b') : ((month(datum.value) == 2 && date(datum.value) == 3) ? '' : timeFormat(datum.value, '%-d'))","grid":false,"domain":false,"ticks":false,"tickSize":0,"labelPadding":8,"labelFontSize":12,"labelColor":"#131722","labelFlush":false,"labelOverlap":false,"title":null}},
 "y":{"field":"d","type":"quantitative","axis":null},"y2":{"datum":0},
 "color":{"condition":[{"test":"datum.d >= 0 && datum.d >= datum.pd","value":"#26a69a"},{"test":"datum.d >= 0","value":"#b2dfdb"},{"test":"datum.d < datum.pd","value":"#ff5252"}],"value":"#ffcdd2"}}},
{"data":{"name":"k"},"mark":{"type":"line","color":"#2962ff","strokeWidth":1},
 "encoding":{"x":{"field":"t","type":"temporal","axis":null},"y":{"field":"m","type":"quantitative","axis":null}}},
{"data":{"name":"k"},"mark":{"type":"line","color":"#ff6d00","strokeWidth":1},
 "encoding":{"x":{"field":"t","type":"temporal","axis":null},"y":{"field":"s","type":"quantitative","axis":null}}},
{"data":{"values":[{}]},"mark":{"type":"text","align":"left","baseline":"middle","fontSize":11.8,"color":"#131722","text":"MACD (close, 12, 26, 9)"},
 "encoding":{"x":{"datum":{"year":2026,"month":2,"date":12,"hours":17,"minutes":20},"type":"temporal","axis":null},"y":{"datum":0.002632,"type":"quantitative","axis":null}}},
{"data":{"values":[{}]},"mark":{"type":"text","align":"left","baseline":"middle","fontSize":11.8,"color":"#f23645","text":"−0.00028"},
 "encoding":{"x":{"datum":{"year":2026,"month":2,"date":14,"hours":7,"minutes":30},"type":"temporal","axis":null},"y":{"datum":0.002632,"type":"quantitative","axis":null}}},
{"data":{"values":[{}]},"mark":{"type":"text","align":"left","baseline":"middle","fontSize":11.8,"color":"#2962ff","text":"0.00079"},
 "encoding":{"x":{"datum":{"year":2026,"month":2,"date":14,"hours":23,"minutes":9},"type":"temporal","axis":null},"y":{"datum":0.002632,"type":"quantitative","axis":null}}},
{"data":{"values":[{}]},"mark":{"type":"text","align":"left","baseline":"middle","fontSize":11.8,"color":"#ff6d00","text":"0.00107"},
 "encoding":{"x":{"datum":{"year":2026,"month":2,"date":15,"hours":13,"minutes":24},"type":"temporal","axis":null},"y":{"datum":0.002632,"type":"quantitative","axis":null}}},
{"data":{"values":[{}]},"mark":{"type":"rect","color":"#ff6d00"},
 "encoding":{"x":{"datum":{"year":2026,"month":3,"date":2,"hours":20,"minutes":24},"type":"temporal","axis":null},"x2":{"datum":{"year":2026,"month":3,"date":3,"hours":12,"minutes":18}},"y":{"datum":0.0025,"type":"quantitative","axis":null},"y2":{"datum":0.001382}}},
{"data":{"values":[{}]},"mark":{"type":"rect","color":"#2962ff"},
 "encoding":{"x":{"datum":{"year":2026,"month":3,"date":2,"hours":20,"minutes":24},"type":"temporal","axis":null},"x2":{"datum":{"year":2026,"month":3,"date":3,"hours":12,"minutes":18}},"y":{"datum":0.001382,"type":"quantitative","axis":null},"y2":{"datum":0.000263}}},
{"data":{"values":[{}]},"mark":{"type":"rect","color":"#ff5252"},
 "encoding":{"x":{"datum":{"year":2026,"month":3,"date":2,"hours":20,"minutes":24},"type":"temporal","axis":null},"x2":{"datum":{"year":2026,"month":3,"date":3,"hours":13,"minutes":48}},"y":{"datum":0.000263,"type":"quantitative","axis":null},"y2":{"datum":-0.000855}}},
{"data":{"values":[{}]},"mark":{"type":"text","color":"#ffffff","fontSize":12,"align":"center","baseline":"middle","text":"0.00107"},
 "encoding":{"x":{"datum":{"year":2026,"month":3,"date":3,"hours":4,"minutes":24},"type":"temporal","axis":null},"y":{"datum":0.001941,"type":"quantitative","axis":null}}},
{"data":{"values":[{}]},"mark":{"type":"text","color":"#ffffff","fontSize":12,"align":"center","baseline":"middle","text":"0.00079"},
 "encoding":{"x":{"datum":{"year":2026,"month":3,"date":3,"hours":4,"minutes":24},"type":"temporal","axis":null},"y":{"datum":0.000822,"type":"quantitative","axis":null}}},
{"data":{"values":[{}]},"mark":{"type":"text","color":"#ffffff","fontSize":12,"align":"center","baseline":"middle","text":"−0.00028"},
 "encoding":{"x":{"datum":{"year":2026,"month":3,"date":3,"hours":5,"minutes":6},"type":"temporal","axis":null},"y":{"datum":-0.000296,"type":"quantitative","axis":null}}},
{"data":{"values":[{}]},"mark":{"type":"point","shape":"M-1,-0.484H-0.161V0.484H-0.548V-0.161H-1Z M-0.065,-0.29a0.194,0.194 0 1,0 0.388,0a0.194,0.194 0 1,0 -0.388,0Z M0.484,-0.484H1L0.548,0.484H0.032Z","filled":true,"size":961,"color":"#131722","opacity":1,"strokeWidth":0},
 "encoding":{"x":{"datum":{"year":2026,"month":2,"date":12,"hours":19,"minutes":46},"type":"temporal","axis":null},"y":{"datum":-0.006678,"type":"quantitative","axis":null}}},
{"data":{"values":[{}]},"mark":{"type":"text","align":"left","baseline":"middle","fontSize":22,"fontWeight":"bold","color":"#131722","text":"TradingView"},
 "encoding":{"x":{"datum":{"year":2026,"month":2,"date":13,"hours":2,"minutes":10},"type":"temporal","axis":null},"y":{"datum":-0.006678,"type":"quantitative","axis":null}}}
]
}
]
}
